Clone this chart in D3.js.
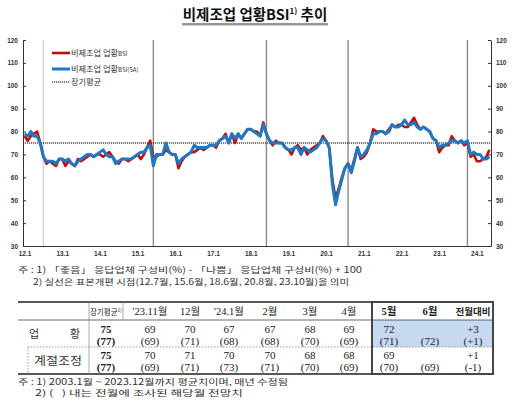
<!DOCTYPE html>
<html>
<head>
<meta charset="utf-8">
<script src="https://cdn.jsdelivr.net/npm/d3@7"></script>
<style>
  body { margin: 0; background: #fff; }
  svg { display: block; }
</style>
</head>
<body>
<div id="chart"></div>
<script>
// monthly values, 2012.1 ~ 2024.5
const bsi = [
  78, 76, 78, 79, 80, 75, 69, 66, 67, 66, 65, 68,   // 2012
  68, 65, 67, 66, 65, 68, 67, 68, 69, 70, 69, 70,   // 2013
  70, 69, 70, 71, 69, 67, 66, 68, 68, 67, 68, 69,   // 2014
  70, 68, 70, 73, 76, 69, 69, 70, 70, 72, 71, 70,   // 2015
  70, 64, 67, 69, 70, 71, 71, 72, 73, 72, 73, 74,   // 2016
  74, 73, 76, 77, 79, 75, 79, 75, 79, 77, 79, 81,   // 2017
  81, 80, 80, 78, 84, 79, 76, 74, 76, 75, 75, 73,   // 2018
  72, 70, 73, 74, 72, 73, 70, 72, 73, 74, 75, 78,   // 2019
  76, 73, 59, 51, 55, 60, 64, 66, 63, 68, 73, 68,   // 2020
  69, 71, 75, 81, 80, 80, 80, 79, 81, 83, 82, 83,   // 2021
  83, 82, 82, 84, 86, 83, 81, 82, 81, 80, 77, 76,   // 2022
  71, 73, 74, 74, 78, 76, 75, 76, 74, 75, 69, 70,   // 2023
  67, 67, 68, 69, 72                                // 2024
];
const bsiSA = [
  79, 78, 80, 78, 78, 75, 69, 67, 67, 67, 66, 68,
  68, 67, 68, 66, 65, 67, 68, 69, 70, 70, 69, 70,
  71, 72, 70, 69, 69, 66, 67, 68, 68, 68, 68, 69,
  70, 71, 71, 73, 74, 65, 70, 70, 70, 75, 71, 70,
  70, 66, 68, 69, 70, 71, 74, 73, 73, 73, 73, 74,
  74, 74, 76, 77, 78, 75, 79, 77, 79, 77, 79, 81,
  81, 80, 79, 78, 83, 79, 76, 75, 75, 75, 75, 73,
  72, 72, 73, 73, 70, 73, 72, 71, 72, 73, 75, 77,
  76, 73, 57, 48, 54, 59, 64, 66, 62, 67, 73, 69,
  70, 72, 75, 79, 79, 80, 80, 79, 80, 83, 82, 82,
  83, 85, 83, 83, 84, 82, 81, 82, 81, 80, 77, 76,
  73, 74, 74, 75, 76, 76, 75, 76, 75, 76, 70, 71,
  70, 70, 68, 68, 69
];
const longRunAvg = 75;
// sample revisions: 12.7, 15.6, 18.6, 20.8, 23.10 (month index from 2012.1)
const revisions = [6, 41, 77, 103, 141];
const yTicks = [30, 40, 50, 60, 70, 80, 90, 100, 110, 120];
const xLabels = ["12.1", "13.1", "14.1", "15.1", "16.1", "17.1", "18.1",
                 "19.1", "20.1", "21.1", "22.1", "23.1", "24.1"];

// table
const tableCols = ["'23.11월", "12월", "'24.1월", "2월", "3월", "4월", "5월", "6월"];
const avgVal = [75, 75];
const avgPrev = [77, 77];
const rowBsi = [69, 70, 67, 67, 68, 69, 72, null];
const rowBsiPrev = [69, 71, 68, 68, 70, 69, 71, 72];
const rowSA = [70, 71, 70, 70, 68, 68, 69, null];
const rowSAPrev = [69, 71, 73, 71, 70, 69, 70, 69];
const diffVal = ["+3", "+1"];
const diffPrev = ["(+1)", "(-1)"];

const KR = "'Noto Sans CJK KR', sans-serif";
const SERIF = "'Liberation Serif', 'Noto Sans CJK KR', serif";

const W = 516, H = 408;
const svg = d3.select("#chart").append("svg")
  .attr("width", W)
  .attr("height", H);

// title
const title = svg.append("text")
  .attr("x", 255).attr("y", 20)
  .attr("text-anchor", "middle")
  .attr("font-family", KR)
  .attr("font-weight", "bold")
  .attr("font-size", 14.5)
  .attr("fill", "#111");
title.append("tspan").text("비제조업 업황BSI");
title.append("tspan").attr("font-size", 8).attr("dy", -6).text("1)");
title.append("tspan").attr("dy", 6).text(" 추이");
svg.append("line").attr("x1", 182).attr("x2", 328).attr("y1", 24).attr("y2", 24)
  .attr("stroke", "#333").attr("stroke-width", 1.2);
svg.append("line").attr("x1", 182).attr("x2", 328).attr("y1", 25.5).attr("y2", 25.5)
  .attr("stroke", "#ccc").attr("stroke-width", 1.2);

// chart
const plot = { left: 23, right: 491, top: 40, bottom: 246 };
const x = d3.scaleLinear().domain([0, bsi.length]).range([plot.left, plot.right]);
const y = d3.scaleLinear().domain([30, 120]).range([plot.bottom, plot.top]);

const g = svg.append("g");

g.selectAll(".rev")
  .data(revisions)
  .enter()
  .append("line")
  .attr("x1", d => x(d + 0.5)).attr("x2", d => x(d + 0.5))
  .attr("y1", plot.top).attr("y2", plot.bottom)
  .attr("stroke", (d, i) => i === 0 ? "#d4d4d4" : "#8a8a8a")
  .attr("stroke-width", 1.4);

g.append("line")
  .attr("x1", plot.left).attr("x2", plot.right)
  .attr("y1", y(longRunAvg)).attr("y2", y(longRunAvg))
  .attr("stroke", "#000").attr("stroke-width", 1.2)
  .attr("stroke-dasharray", "1.2,0.8");

const line = d3.line().x((d, i) => x(i + 0.5)).y(d => y(d));

g.append("path").datum(bsi)
  .attr("fill", "none").attr("stroke", "#c00d0d")
  .attr("stroke-width", 2.6).attr("stroke-linejoin", "round")
  .attr("d", line);

g.append("path").datum(bsiSA)
  .attr("fill", "none").attr("stroke", "#1e78c2")
  .attr("stroke-width", 3).attr("stroke-linejoin", "round")
  .attr("d", line);

function styleAxis(sel) {
  sel.select(".domain").attr("stroke", "#333");
  sel.selectAll(".tick line").attr("stroke", "#333");
  sel.selectAll("text")
    .attr("font-family", "'Liberation Sans', sans-serif")
    .attr("font-size", 6.5)
    .attr("font-weight", "bold")
    .attr("fill", "#333");
}

svg.append("g")
  .attr("transform", `translate(${plot.left},0)`)
  .call(d3.axisLeft(y).tickValues(yTicks).tickSizeInner(-3).tickSizeOuter(0).tickPadding(5))
  .call(styleAxis);

svg.append("g")
  .attr("transform", `translate(${plot.right},0)`)
  .call(d3.axisRight(y).tickValues(yTicks).tickSizeInner(-3).tickSizeOuter(0).tickPadding(5))
  .call(styleAxis);

svg.append("g")
  .attr("transform", `translate(0,${plot.bottom})`)
  .call(d3.axisBottom(x)
    .tickValues(xLabels.map((d, k) => k * 12 + 0.5))
    .tickFormat((d, k) => xLabels[k])
    .tickSize(0).tickPadding(5))
  .call(styleAxis);

// legend
const legend = svg.append("g").attr("font-family", KR).attr("font-size", 8.2).attr("fill", "#333");
const legendItems = [
  { label: "비제조업 업황", sub: "BSI", color: "#c00d0d", width: 2.6, dash: null, y: 53 },
  { label: "비제조업 업황", sub: "BSI(SA)", color: "#1e78c2", width: 3, dash: null, y: 69 },
  { label: "장기평균", sub: "", color: "#000", width: 1, dash: "1.2,0.8", y: 82 }
];
legendItems.forEach(d => {
  legend.append("line")
    .attr("x1", 52).attr("x2", 70).attr("y1", d.y).attr("y2", d.y)
    .attr("stroke", d.color).attr("stroke-width", d.width)
    .attr("stroke-dasharray", d.dash);
  const t = legend.append("text").attr("x", 71).attr("y", d.y + 3);
  t.append("tspan").text(d.label);
  t.append("tspan").attr("font-size", 6).text(d.sub);
});

// footnotes under the chart
const notes = svg.append("g").attr("font-family", KR).attr("font-size", 8.5).attr("fill", "#333");
notes.append("text").attr("x", 18).attr("y", 273)
  .attr("textLength", 344).attr("lengthAdjust", "spacingAndGlyphs")
  .text("주 : 1) 「좋음」 응답업체 구성비(%) - 「나쁨」 응답업체 구성비(%) + 100");
notes.append("text").attr("x", 33).attr("y", 285)
  .attr("textLength", 316).attr("lengthAdjust", "spacingAndGlyphs")
  .text("2) 실선은 표본개편 시점(12.7월, 15.6월, 18.6월, 20.8월, 23.10월)을 의미");

// table
const tb = { left: 18, right: 493, top: 302, head: 320, mid: 347, bottom: 374, box: 372 };
const colX = [106, 150, 190, 229, 270, 310, 349, 389, 430, 473];
const table = svg.append("g");

table.append("rect")
  .attr("x", tb.box).attr("y", tb.head)
  .attr("width", tb.right - tb.box).attr("height", tb.mid - tb.head)
  .attr("fill", "#c6d9f0");

table.append("line").attr("x1", tb.left).attr("x2", tb.box)
  .attr("y1", tb.top).attr("y2", tb.top).attr("stroke", "#222").attr("stroke-width", 1.3);
table.append("line").attr("x1", tb.left).attr("x2", tb.right)
  .attr("y1", tb.head).attr("y2", tb.head).attr("stroke", "#444").attr("stroke-width", 0.8);
table.append("line").attr("x1", 28).attr("x2", tb.right)
  .attr("y1", tb.mid).attr("y2", tb.mid).attr("stroke", "#777").attr("stroke-width", 0.7)
  .attr("stroke-dasharray", "1.5,1.5");
table.append("line").attr("x1", tb.left).attr("x2", tb.box)
  .attr("y1", tb.bottom).attr("y2", tb.bottom).attr("stroke", "#222").attr("stroke-width", 1.3);
table.append("line").attr("x1", 89).attr("x2", 89)
  .attr("y1", tb.top).attr("y2", tb.bottom).attr("stroke", "#888").attr("stroke-width", 0.7);
table.append("line").attr("x1", 123).attr("x2", 123)
  .attr("y1", tb.top).attr("y2", tb.head).attr("stroke", "#888").attr("stroke-width", 0.7);
table.append("line").attr("x1", 28).attr("x2", 28)
  .attr("y1", tb.mid).attr("y2", tb.bottom).attr("stroke", "#777").attr("stroke-width", 0.7)
  .attr("stroke-dasharray", "1.5,1.5");
table.append("rect")
  .attr("x", tb.box).attr("y", tb.top)
  .attr("width", tb.right - tb.box).attr("height", tb.bottom - tb.top)
  .attr("fill", "none").attr("stroke", "#333").attr("stroke-width", 1.8);

// header
const head = table.append("g").attr("font-family", SERIF).attr("font-size", 10.5)
  .attr("fill", "#222").attr("text-anchor", "middle");
const avgHead = head.append("text").attr("x", colX[0]).attr("y", 315)
  .attr("font-family", KR).attr("font-size", 7.5);
avgHead.append("tspan").text("장기평균");
avgHead.append("tspan").attr("font-size", 5).attr("dy", -3).text("1)");
tableCols.forEach((c, i) => {
  head.append("text")
    .attr("x", colX[i + 1]).attr("y", 315)
    .attr("font-weight", i >= 6 ? "bold" : null)
    .text(c);
});
head.append("text").attr("x", colX[9]).attr("y", 315)
  .attr("font-family", KR).attr("font-weight", "bold").attr("font-size", 9.5)
  .text("전월대비");

// row labels
const lab = table.append("g").attr("font-family", KR).attr("font-size", 11)
  .attr("fill", "#333").attr("text-anchor", "middle");
lab.append("text").attr("x", 34).attr("y", 338).text("업");
lab.append("text").attr("x", 75).attr("y", 338).text("황");
lab.append("text").attr("x", 58).attr("y", 365)
  .attr("textLength", 48).attr("lengthAdjust", "spacingAndGlyphs").text("계절조정");

// values
const vals = table.append("g").attr("font-family", SERIF).attr("font-size", 11)
  .attr("fill", "#222").attr("text-anchor", "middle");
const rows = [
  { cur: rowBsi, prev: rowBsiPrev, y1: 333, y2: 345 },
  { cur: rowSA, prev: rowSAPrev, y1: 359, y2: 371 }
];
rows.forEach((r, k) => {
  vals.append("text").attr("x", colX[0]).attr("y", r.y1).attr("font-weight", "bold").text(avgVal[k]);
  vals.append("text").attr("x", colX[0]).attr("y", r.y2).attr("font-weight", "bold").text(`(${avgPrev[k]})`);
  r.cur.forEach((v, i) => {
    if (v !== null) vals.append("text").attr("x", colX[i + 1]).attr("y", r.y1).text(v);
    vals.append("text").attr("x", colX[i + 1]).attr("y", r.y2).text(`(${r.prev[i]})`);
  });
  vals.append("text").attr("x", colX[9]).attr("y", r.y1).text(diffVal[k]);
  vals.append("text").attr("x", colX[9]).attr("y", r.y2).text(diffPrev[k]);
});

// table notes
const notes2 = svg.append("g").attr("font-family", KR).attr("font-size", 8.5).attr("fill", "#333");
notes2.append("text").attr("x", 18).attr("y", 385)
  .attr("textLength", 270).attr("lengthAdjust", "spacingAndGlyphs")
  .text("주 : 1) 2003.1월 ~ 2023.12월까지 평균치이며, 매년 수정됨");
notes2.append("text").attr("x", 35).attr("y", 396)
  .attr("textLength", 208).attr("lengthAdjust", "spacingAndGlyphs")
  .text("2) (\u00a0\u00a0\u00a0) 내는 전월에 조사된 해당월 전망치");
</script>
</body>
</html>
